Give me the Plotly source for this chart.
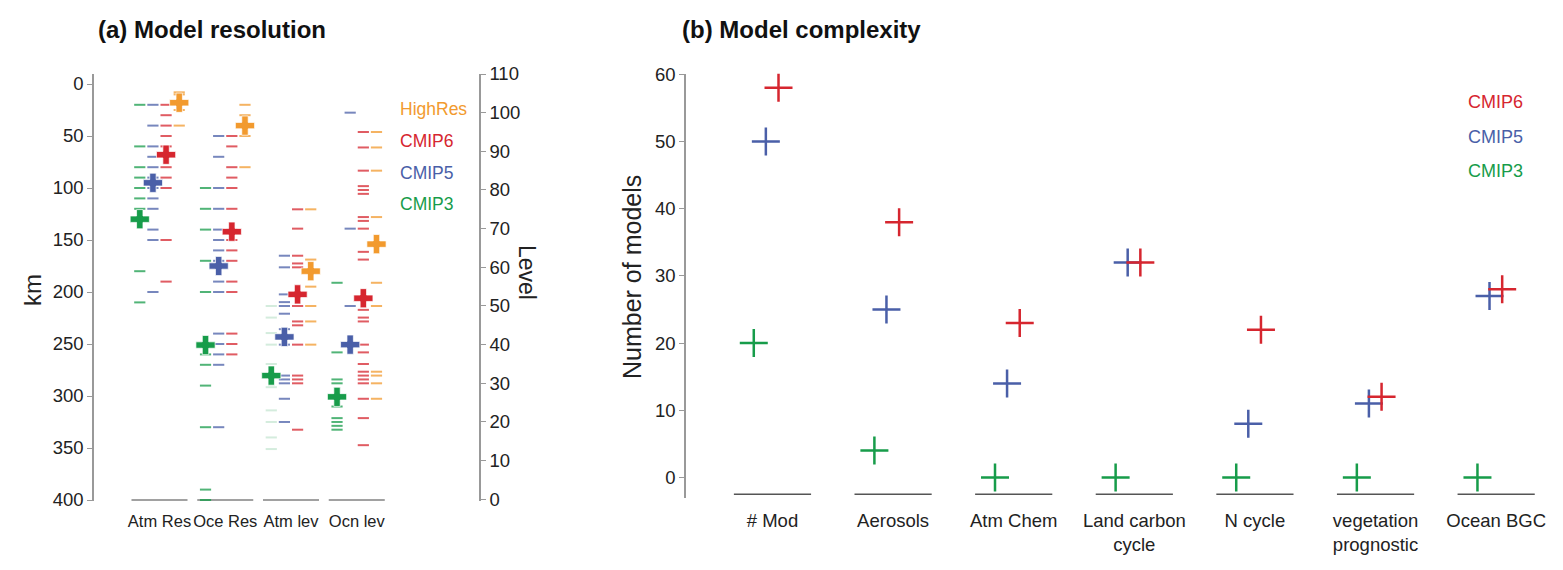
import plotly.graph_objects as go

W, H = 1563, 570
FONT = "Liberation Sans, Arial, sans-serif"

# ---------------- Data: panel (a) ----------------
res_groups = ["Atm Res", "Oce Res", "Atm lev", "Ocn lev"]
series_a = ["CMIP3", "CMIP5", "CMIP6", "HighRes"]

# horizontal resolution (km)
atm_res_cmip3 = [20, 60, 80, 90, 100, 110, 120, 180, 210]
atm_res_cmip5 = [20, 40, 60, 70, 80, 90, 100, 110, 120, 140, 150, 200]
atm_res_cmip6 = [20, 30, 40, 50, 60, 70, 80, 90, 100, 150, 190]
atm_res_high = [8, 10, 25, 40]
atm_res_mean = [130, 95, 68, 18]

oce_res_cmip3 = [100, 120, 140, 170, 200, 250, 260, 270, 290, 330, 390, 400]
oce_res_cmip5 = [50, 70, 100, 120, 140, 150, 160, 170, 190, 200, 240, 250, 260, 270, 330]
oce_res_cmip6 = [50, 60, 80, 90, 100, 120, 140, 150, 160, 170, 190, 200, 240, 250, 260]
oce_res_high = [20, 30, 40, 50, 80]
oce_res_mean = [251, 175, 142, 40]

# vertical levels
atm_lev_cmip3 = [50, 47, 43, 40, 35, 29, 23, 20, 16, 13]
atm_lev_cmip5 = [63, 60, 53, 51, 50, 48, 44, 40, 32, 31, 30, 26, 20]
atm_lev_cmip6 = [75, 70, 63, 61, 60, 53, 50, 46, 45, 40, 32, 31, 30, 18]
atm_lev_high = [75, 62, 55, 50, 46, 40]
atm_lev_mean = [32, 42, 53, 59]

ocn_lev_cmip3 = [56, 38, 31, 30, 24, 21, 20, 19, 18]
ocn_lev_cmip5 = [100, 70, 50, 40]
ocn_lev_cmip6 = [95, 91, 85, 81, 80, 79, 73, 72, 70, 64, 62, 52, 49, 47, 46, 40, 38,
                 35, 33, 32, 31, 30, 26, 21, 14]
ocn_lev_high = [95, 91, 85, 73, 56, 50, 33, 32, 30, 26]
ocn_lev_mean = [26.5, 40, 52, 66]

km_ticks = list(range(0, 401, 50))
lev_ticks = list(range(0, 111, 10))

# ---------------- Data: panel (b) ----------------
cx_categories = ["# Mod", "Aerosols", "Atm Chem", "Land carbon<br>cycle", "N cycle",
                 "vegetation<br>prognostic", "Ocean BGC"]
cx_cmip3 = [20, 4, 0, 0, 0, 0, 0]
cx_cmip5 = [50, 25, 14, 32, 8, 11, 27]
cx_cmip6 = [58, 38, 23, 32, 22, 12, 28]
cx_ticks = list(range(0, 61, 10))

# ---------------- Styles ----------------
COL = {"CMIP3": "#179C4A", "CMIP5": "#4A5FA8", "CMIP6": "#D6262F", "HighRes": "#F29A2E"}
SUB_OFF = {"CMIP3": -0.3, "CMIP5": -0.1, "CMIP6": 0.1, "HighRes": 0.3}
B_OFF = {"CMIP3": -0.155, "CMIP5": -0.055, "CMIP6": 0.05}


def px(x):
    return x / W


def py(y):
    return 1 - y / H


fig = go.Figure()

groups_a = [
    (0, "y", [atm_res_cmip3, atm_res_cmip5, atm_res_cmip6, atm_res_high], atm_res_mean),
    (1, "y", [oce_res_cmip3, oce_res_cmip5, oce_res_cmip6, oce_res_high], oce_res_mean),
    (2, "y2", [atm_lev_cmip3, atm_lev_cmip5, atm_lev_cmip6, atm_lev_high], atm_lev_mean),
    (3, "y2", [ocn_lev_cmip3, ocn_lev_cmip5, ocn_lev_cmip6, ocn_lev_high], ocn_lev_mean),
]

# base lines panel a
bx, by = [], []
for g in range(len(res_groups)):
    bx += [g - 0.426, g + 0.426, None]
    by += [400, 400, None]
fig.add_trace(go.Scatter(x=bx, y=by, xaxis="x", yaxis="y", mode="lines",
                         line=dict(color="#444", width=1.2), hoverinfo="skip", showlegend=False))

for g, yax, lists, means in groups_a:
    for s, vals in zip(series_a, lists):
        op = 0.75
        if g == 2 and s == "CMIP3":
            op = 0.18
        fig.add_trace(go.Scatter(
            x=[g + SUB_OFF[s]] * len(vals), y=vals, xaxis="x", yaxis=yax, mode="markers",
            marker=dict(symbol="line-ew", size=8, opacity=op,
                        line=dict(color=COL[s], width=2)),
            cliponaxis=False, showlegend=False, hoverinfo="y"))
for g, yax, lists, means in groups_a:
    for s, m in zip(series_a, means):
        fig.add_trace(go.Scatter(
            x=[g + SUB_OFF[s]], y=[m], xaxis="x", yaxis=yax, mode="markers",
            marker=dict(symbol="cross", size=16, color=COL[s],
                        line=dict(color="rgba(255,255,255,0.7)", width=1)),
            cliponaxis=False, showlegend=False, hoverinfo="y"))

# panel b base lines
bx, by = [], []
for i in range(len(cx_categories)):
    bx += [i - 0.32, i + 0.32, None]
    by += [-2.5, -2.5, None]
fig.add_trace(go.Scatter(x=bx, y=by, xaxis="x3", yaxis="y3", mode="lines",
                         line=dict(color="#555", width=1.5), hoverinfo="skip", showlegend=False))

for s, vals in [("CMIP3", cx_cmip3), ("CMIP5", cx_cmip5), ("CMIP6", cx_cmip6)]:
    fig.add_trace(go.Scatter(
        x=[i + B_OFF[s] for i in range(len(vals))], y=vals, xaxis="x3", yaxis="y3",
        mode="markers", name=s,
        marker=dict(symbol="cross-thin", size=20, line=dict(color=COL[s], width=2.5)),
        cliponaxis=False, showlegend=False))

tickfont = dict(family=FONT, size=18.5, color="#222")
fig.update_layout(
    width=W, height=H, autosize=False, margin=dict(l=0, r=0, t=0, b=0, pad=0),
    paper_bgcolor="white", plot_bgcolor="white", showlegend=False,
    xaxis=dict(domain=[px(94), px(479)], range=[-0.996, 4.859], anchor="y",
               tickvals=list(range(len(res_groups))), ticktext=res_groups,
               tickfont=dict(family=FONT, size=16.5, color="#222"), tickangle=0,
               automargin=False, ticklabelstandoff=8,
               showgrid=False, zeroline=False, showline=False, ticks=""),
    yaxis=dict(domain=[py(501), py(74)], range=[400.96, -9.62], anchor="x",
               tickvals=km_ticks, tickfont=tickfont, showgrid=False, zeroline=False,
               automargin=False,
               showline=True, linecolor="#999", linewidth=1.5,
               ticks="outside", ticklen=5, tickcolor="#999", tickwidth=1.2),
    yaxis2=dict(overlaying="y", side="right", anchor="x", range=[-0.44, 110],
                tickvals=lev_ticks, tickfont=tickfont, showgrid=False, zeroline=False,
                automargin=False,
                showline=True, linecolor="#999", linewidth=1.5,
                ticks="outside", ticklen=5, tickcolor="#999", tickwidth=1.2),
    xaxis3=dict(domain=[px(686), px(1545)], range=[-0.717, 6.405], anchor="y3",
                tickvals=list(range(len(cx_categories))), ticktext=cx_categories,
                tickfont=dict(family=FONT, size=18.5, color="#222"), tickangle=0,
                automargin=False, ticklabelstandoff=9,
                showgrid=False, zeroline=False, showline=False, ticks=""),
    yaxis3=dict(domain=[py(498.3), py(74.3)], range=[-3.1, 60], anchor="x3",
                tickvals=cx_ticks, tickfont=tickfont, showgrid=False, zeroline=False,
                automargin=False,
                showline=True, linecolor="#999", linewidth=1.5,
                ticks="outside", ticklen=5, tickcolor="#999", tickwidth=1.2),
)

ann = []
ann.append(dict(x=px(212), y=py(30), text="<b>(a) Model resolution</b>",
                font=dict(family=FONT, size=24, color="#111")))
ann.append(dict(x=px(801), y=py(30), text="<b>(b) Model complexity</b>",
                font=dict(family=FONT, size=24, color="#111")))
ann.append(dict(x=px(32), y=py(290), text="km", textangle=-90,
                font=dict(family=FONT, size=24, color="#222")))
ann.append(dict(x=px(527), y=py(272), text="Level", textangle=90,
                font=dict(family=FONT, size=23, color="#222")))
ann.append(dict(x=px(632), y=py(277), text="Number of models", textangle=-90,
                font=dict(family=FONT, size=25, color="#222")))
for s, yy in [("HighRes", 109), ("CMIP6", 141), ("CMIP5", 173), ("CMIP3", 204)]:
    ann.append(dict(x=px(398), y=py(yy), text=s, xanchor="left",
                    font=dict(family=FONT, size=17.5, color=COL[s])))
for s, yy in [("CMIP6", 102), ("CMIP5", 137), ("CMIP3", 171)]:
    ann.append(dict(x=px(1466), y=py(yy), text=s, xanchor="left",
                    font=dict(family=FONT, size=18, color=COL[s])))
for a in ann:
    a.setdefault("xanchor", "center")
    a.update(xref="paper", yref="paper", yanchor="middle", showarrow=False)
fig.update_layout(annotations=ann)

fig.write_html("out.html")
